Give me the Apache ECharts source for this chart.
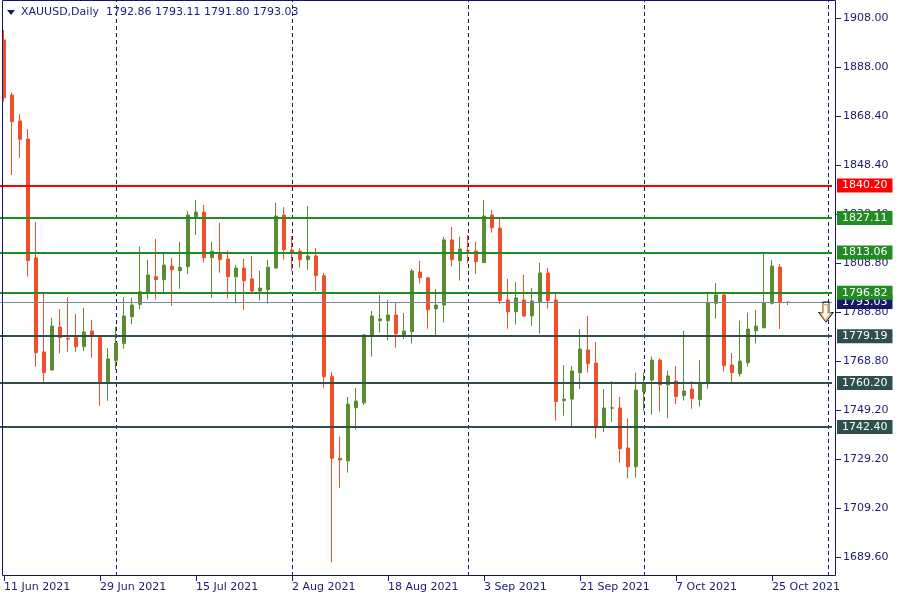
<!DOCTYPE html>
<html>
<head>
<meta charset="utf-8">
<script src="https://cdn.jsdelivr.net/npm/echarts@6/dist/echarts.min.js"></script>
<style>
html,body{margin:0;padding:0;background:#fff;}
#c{width:900px;height:600px;}
</style>
</head>
<body>
<div id="c"></div>
<script>
// ---- data ----
const dates = ['11 Jun 2021','14 Jun 2021','15 Jun 2021','16 Jun 2021','17 Jun 2021','18 Jun 2021','21 Jun 2021','22 Jun 2021','23 Jun 2021','24 Jun 2021','25 Jun 2021','28 Jun 2021','29 Jun 2021','30 Jun 2021',
'1 Jul 2021','2 Jul 2021','5 Jul 2021','6 Jul 2021','7 Jul 2021','8 Jul 2021','9 Jul 2021','12 Jul 2021','13 Jul 2021','14 Jul 2021','15 Jul 2021','16 Jul 2021','19 Jul 2021','20 Jul 2021','21 Jul 2021','22 Jul 2021','23 Jul 2021','26 Jul 2021','27 Jul 2021','28 Jul 2021','29 Jul 2021','30 Jul 2021',
'2 Aug 2021','3 Aug 2021','4 Aug 2021','5 Aug 2021','6 Aug 2021','9 Aug 2021','10 Aug 2021','11 Aug 2021','12 Aug 2021','13 Aug 2021','16 Aug 2021','17 Aug 2021','18 Aug 2021','19 Aug 2021','20 Aug 2021','23 Aug 2021','24 Aug 2021','25 Aug 2021','26 Aug 2021','27 Aug 2021','30 Aug 2021','31 Aug 2021',
'1 Sep 2021','2 Sep 2021','3 Sep 2021','6 Sep 2021','7 Sep 2021','8 Sep 2021','9 Sep 2021','10 Sep 2021','13 Sep 2021','14 Sep 2021','15 Sep 2021','16 Sep 2021','17 Sep 2021','20 Sep 2021','21 Sep 2021','22 Sep 2021','23 Sep 2021','24 Sep 2021','27 Sep 2021','28 Sep 2021','29 Sep 2021','30 Sep 2021',
'1 Oct 2021','4 Oct 2021','5 Oct 2021','6 Oct 2021','7 Oct 2021','8 Oct 2021','11 Oct 2021','12 Oct 2021','13 Oct 2021','14 Oct 2021','15 Oct 2021','18 Oct 2021','19 Oct 2021','20 Oct 2021','21 Oct 2021','22 Oct 2021','25 Oct 2021','26 Oct 2021','27 Oct 2021',
'28 Oct 2021','29 Oct 2021','1 Nov 2021','2 Nov 2021','3 Nov 2021'];

const opens = [1899.2,1876.9,1866.4,1859.1,1810.9,1772.8,1765.5,1782.9,1778.3,1778.6,1774.9,1781.3,1778.6,1760.8,
1769.3,1776.2,1787.1,1792.1,1796.6,1803.3,1802.1,1807.6,1805.7,1807.4,1827.6,1829.5,1811.0,1812.5,1810.5,1803.3,1806.8,1802.4,1797.5,1798.0,1806.8,1828.3,
1814.1,1813.6,1810.2,1811.7,1803.7,1762.8,1729.7,1728.7,1750.2,1752.2,1779.4,1785.5,1785.5,1787.8,1779.7,1781.0,1805.2,1802.8,1790.3,1791.8,1818.2,1809.8,
1814.0,1813.7,1809.0,1828.3,1823.0,1793.9,1789.1,1793.9,1787.4,1793.0,1804.8,1793.9,1753.1,1753.7,1764.4,1773.6,1768.3,1742.5,1750.0,1750.1,1733.9,1726.3,
1756.7,1761.4,1769.5,1759.5,1761.0,1755.1,1757.8,1753.5,1760.1,1792.5,1795.9,1767.5,1764.0,1768.5,1781.4,1782.6,1792.5,1807.2,1792.86];
const highs = [1903.3,1877.9,1869.2,1863.1,1825.5,1797.0,1786.7,1790.2,1795.1,1788.2,1790.6,1785.8,1778.8,1774.4,
1783.0,1795.1,1794.8,1815.5,1810.1,1818.6,1812.5,1810.9,1817.5,1829.9,1834.4,1832.4,1817.5,1825.1,1813.8,1808.0,1810.5,1811.7,1805.7,1810.1,1833.2,1831.5,
1819.8,1814.9,1831.9,1814.9,1804.8,1764.7,1738.5,1754.6,1758.2,1780.1,1789.4,1795.9,1793.9,1792.6,1788.6,1806.4,1809.7,1803.3,1798.3,1819.4,1823.4,1819.5,
1820.2,1817.5,1834.4,1830.3,1827.5,1802.4,1801.2,1804.0,1798.7,1808.9,1806.8,1796.3,1767.5,1767.2,1782.1,1787.4,1776.8,1757.8,1761.0,1754.6,1745.8,1764.4,
1764.4,1770.9,1770.2,1765.2,1767.1,1781.4,1761.0,1769.5,1796.3,1800.7,1797.0,1772.4,1785.5,1788.7,1789.8,1813.4,1810.1,1808.4,1793.11];
const lows = [1874.2,1844.5,1851.5,1803.3,1766.8,1760.8,1765.3,1772.3,1772.9,1772.9,1773.2,1770.5,1751.0,1753.0,
1765.5,1774.1,1784.1,1790.1,1794.1,1794.1,1796.6,1791.5,1798.4,1804.4,1820.2,1809.0,1794.8,1804.9,1794.4,1792.5,1789.7,1796.2,1793.6,1792.4,1806.5,1810.2,
1805.7,1806.9,1806.1,1797.5,1758.3,1687.4,1717.6,1723.9,1741.3,1751.3,1770.9,1780.6,1777.4,1774.5,1778.1,1776.2,1800.5,1782.2,1779.4,1784.7,1807.4,1801.7,
1808.7,1804.4,1808.8,1821.1,1792.2,1782.2,1783.9,1787.1,1783.4,1780.2,1790.3,1745.0,1747.0,1742.1,1757.8,1764.4,1737.7,1740.3,1744.5,1727.9,1721.5,1721.9,
1749.0,1747.4,1748.6,1745.8,1751.7,1753.1,1749.8,1750.6,1757.9,1786.3,1764.8,1760.1,1762.8,1766.8,1776.2,1782.4,1792.0,1782.1,1791.80];
const closes = [1875.8,1866.1,1859.0,1809.8,1772.5,1764.4,1783.3,1778.6,1778.0,1774.9,1780.9,1779.0,1760.8,1770.0,
1776.4,1787.4,1791.8,1797.2,1804.0,1802.1,1808.0,1806.1,1807.1,1828.3,1829.5,1811.0,1813.6,1810.2,1803.3,1806.8,1801.7,1797.5,1798.7,1807.1,1827.9,1814.2,
1813.2,1810.2,1811.7,1803.7,1762.8,1729.7,1729.0,1751.7,1752.9,1779.7,1787.4,1786.2,1787.8,1780.2,1781.3,1805.6,1802.9,1789.9,1791.8,1818.2,1810.2,1814.5,
1813.8,1809.4,1827.9,1823.2,1793.6,1789.1,1794.7,1787.4,1793.5,1804.8,1793.6,1752.7,1753.7,1765.1,1774.0,1768.1,1742.1,1750.1,1750.2,1733.6,1726.3,1757.4,
1760.4,1769.5,1759.5,1763.1,1754.7,1757.0,1753.9,1760.1,1792.9,1795.9,1767.2,1764.4,1769.1,1782.1,1783.3,1792.8,1807.6,1792.8,1793.03];

const levelValues = [1840.20, 1827.11, 1813.06, 1796.82, 1779.19, 1760.20, 1742.40];
const bidPrice = 1793.03;
const separatorDates = ['1 Jul 2021','2 Aug 2021','1 Sep 2021','1 Oct 2021','3 Nov 2021'];
const tickValues = [1689.60,1709.45,1729.31,1749.16,1769.02,1788.87,1808.73,1828.58,1848.44,1868.29,1888.15,1908.00];
const tickLabels = ['1689.60','1709.20','1729.20','1749.20','1768.80','1788.80','1808.80','1828.40','1848.40','1868.40','1888.00','1908.00'];
const headerText = 'XAUUSD,Daily  1792.86 1793.11 1791.80 1793.03';

// ---- styles ----
const NAVY = '#1b1b6f';
const UP = '#5A8D32', DOWN = '#F24E28';
const levelColors = ['#FF0000','#228B22','#228B22','#228B22','#2F4F4F','#2F4F4F','#2F4F4F'];
const FONT = 'DejaVu Sans';
const ARROW = 'path://M4,0L10,0L10,10L14,10L7,19L0,10L4,10Z';

const candles = opens.map((o, i) => [o, closes[i], lows[i], highs[i]]);

function lvl(v, color, width) {
  return {
    yAxis: v,
    lineStyle: { color: color, width: width, type: 'solid' },
    label: {
      show: true, position: 'end', distance: 5,
      formatter: v.toFixed(2),
      backgroundColor: color === '#778899' ? '#17176a' : color,
      color: '#ffffff', padding: [2, 5, 1, 5],
      fontFamily: FONT, fontSize: 11
    }
  };
}

const levelData = [lvl(bidPrice, '#778899', 1)].concat(
  levelValues.map((v, i) => lvl(v, levelColors[i], 2))
);

const chart = echarts.init(document.getElementById('c'), null, { renderer: 'canvas' });

chart.setOption({
  animation: false,
  backgroundColor: '#ffffff',
  textStyle: { fontFamily: FONT },
  title: {
    text: headerText, left: 21, top: 7, padding: 0,
    textStyle: { fontFamily: FONT, fontSize: 11, fontWeight: 'normal', color: NAVY }
  },
  graphic: [
    { type: 'polygon', shape: { points: [[7, 10], [15, 10], [11, 15]] }, style: { fill: NAVY }, silent: true },
    { type: 'rect', shape: { x: 2.5, y: 0.5, width: 833, height: 575 }, style: { fill: null, stroke: '#14146e', lineWidth: 1 }, z: 100, silent: true }
  ],
  grid: { left: 0, width: 832, top: 0, bottom: 24 },
  xAxis: {
    type: 'category', data: dates, boundaryGap: true,
    axisLine: { show: false },
    axisTick: { show: true, interval: 11, alignWithLabel: true, length: 5, lineStyle: { color: NAVY } },
    axisLabel: { interval: 11, align: 'left', margin: 6, color: NAVY, fontFamily: FONT, fontSize: 11 },
    splitLine: { show: false }
  },
  yAxis: {
    type: 'value', position: 'right', offset: 4,
    min: 1682.03, max: 1915.41,
    splitLine: { show: false },
    axisLine: { show: false },
    axisTick: { show: true, customValues: tickValues, length: 5, lineStyle: { color: NAVY } },
    axisLabel: {
      customValues: tickValues, margin: 7, color: NAVY, fontFamily: FONT, fontSize: 11,
      formatter: function (v) {
        for (let i = 0; i < tickValues.length; i++) if (Math.abs(tickValues[i] - v) < 0.01) return tickLabels[i];
        return '';
      }
    }
  },
  series: [
    {
      type: 'line', data: [], z: 1,
      markLine: {
        z: 1, silent: true, symbol: ['none', 'none'], animation: false,
        label: { show: false },
        lineStyle: { color: '#1a1a5e', width: 1, type: [4, 3] },
        data: separatorDates.map(d => ({ xAxis: d }))
      }
    },
    {
      type: 'candlestick', data: candles, barWidth: 4, z: 2,
      itemStyle: { color: UP, color0: DOWN, borderColor: UP, borderColor0: DOWN, borderWidth: 1 },
      markLine: {
        silent: true, symbol: ['none', 'none'], animation: false,
        data: levelData
      },
      markPoint: {
        silent: true, animation: false,
        data: [
          {
            coord: ['3 Nov 2021', bidPrice],
            symbol: ARROW, symbolSize: [14, 20], symbolOffset: [-2, '50%'],
            itemStyle: { color: '#ffffff', borderColor: '#111111', borderWidth: 1 },
            label: { show: false }
          },
          {
            coord: ['3 Nov 2021', bidPrice],
            symbol: ARROW, symbolSize: [10, 16], symbolOffset: [-2.5, 10.5],
            itemStyle: { color: '#ffffff', borderColor: '#F0A040', borderWidth: 1 },
            label: { show: false }
          }
        ]
      }
    }
  ]
});
</script>
</body>
</html>
